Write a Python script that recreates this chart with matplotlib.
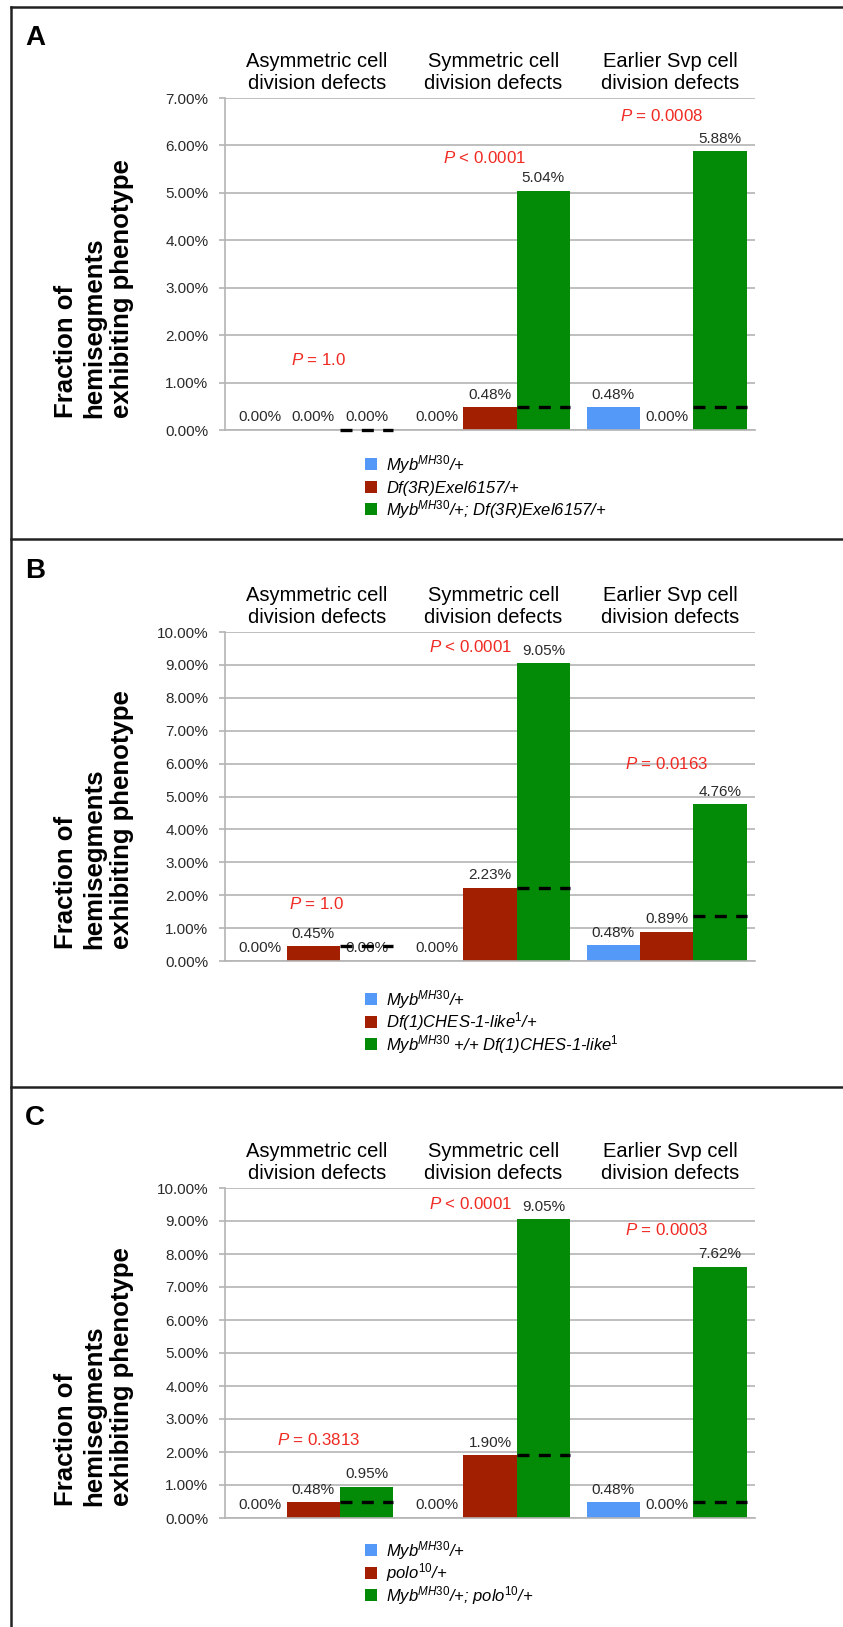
import matplotlib
matplotlib.use("Agg")
import matplotlib.pyplot as plt
from matplotlib.patches import Rectangle
from matplotlib.lines import Line2D

plt.rcParams['font.family'] = ['Liberation Sans', 'DejaVu Sans']
plt.rcParams['mathtext.fontset'] = 'custom'
plt.rcParams['mathtext.rm'] = 'Liberation Sans'
plt.rcParams['mathtext.it'] = 'Liberation Sans:italic'

# ---- data (percent of hemisegments) ----
categories = ["Asymmetric cell\ndivision defects",
              "Symmetric cell\ndivision defects",
              "Earlier Svp cell\ndivision defects"]

myb = [0.00, 0.00, 0.48]

df3r = [0.00, 0.48, 0.00]
myb_df3r = [0.00, 5.04, 5.88]
expected_A = [0.00, 0.48, 0.48]
pvals_A = ["= 1.0", "< 0.0001", "= 0.0008"]

ches = [0.45, 2.23, 0.89]
myb_ches = [0.00, 9.05, 4.76]
expected_B = [0.45, 2.23, 1.37]
pvals_B = ["= 1.0", "< 0.0001", "= 0.0163"]

polo = [0.48, 1.90, 0.00]
myb_polo = [0.95, 9.05, 7.62]
expected_C = [0.48, 1.90, 0.48]
pvals_C = ["= 0.3813", "< 0.0001", "= 0.0003"]

legend_A = [r"Myb$^{\mathit{MH30}}$/+",
            "Df(3R)Exel6157/+",
            r"Myb$^{\mathit{MH30}}$/+; Df(3R)Exel6157/+"]
legend_B = [r"Myb$^{\mathit{MH30}}$/+",
            r"Df(1)CHES-1-like$^{\mathit{1}}$/+",
            r"Myb$^{\mathit{MH30}}$ +/+ Df(1)CHES-1-like$^{\mathit{1}}$"]
legend_C = [r"Myb$^{\mathit{MH30}}$/+",
            r"polo$^{\mathit{10}}$/+",
            r"Myb$^{\mathit{MH30}}$/+; polo$^{\mathit{10}}$/+"]

colors = ["#5599f8", "#a21f02", "#038a07"]
pcolor = "#f02a22"
grid_c = "#b4b4b4"

W, H = 843, 1627
fig = plt.figure(figsize=(W / 100, H / 100), dpi=100)

def fx(px):
    return px / W

def fy(py):
    return 1 - py / H

# panel layout: (letter, letter baseline, axes top px, axes bottom px, ymax, legend row 1 px)
panels = [
    ("A", 45, 98, 430, 7, 464, [myb, df3r, myb_df3r], expected_A, pvals_A,
     [(0.03, 1.48), (0.97, 5.74), (1.97, 6.62)], legend_A),
    ("B", 578, 632, 961, 10, 999, [myb, ches, myb_ches], expected_B, pvals_B,
     [(0.02, 1.74), (0.89, 9.53), (2.0, 6.0)], legend_B),
    ("C", 1125, 1188, 1518, 10, 1550, [myb, polo, myb_polo], expected_C, pvals_C,
     [(0.03, 2.35), (0.89, 9.53), (2.0, 8.74)], legend_C),
]

bw = 0.302
ax_left, ax_right = 225, 755

for letter, lbase, top, bot, ymax, leg_y, series, expected, pvals, ppos, labels in panels:
    ax = fig.add_axes([fx(ax_left), fy(bot), fx(ax_right - ax_left), (bot - top) / H])
    ax.set_xlim(-0.5, 2.5)
    ax.set_ylim(0, ymax)
    ax.set_axisbelow(True)

    for k, (vals, col) in enumerate(zip(series, colors)):
        xs = [i + (k - 1) * bw for i in range(3)]
        ax.bar(xs, vals, width=bw, color=col, linewidth=0, zorder=2)
        for x, v in zip(xs, vals):
            ax.annotate(f"{v:.2f}%", xy=(x, v), xytext=(0, 4),
                        textcoords="offset points", ha="center", va="bottom",
                        fontsize=11, color="#2a2a2a", zorder=3)

    # expected additive value, drawn across the double-mutant bar
    for i, e in enumerate(expected):
        ax.hlines(e, i + bw / 2, i + 1.5 * bw, colors="black", linewidth=2.4,
                  linestyles=(0, (3.6, 2.8)), zorder=4, clip_on=False)

    for (px, py), p in zip(ppos, pvals):
        ax.text(px, py, r"$P$ " + p, color=pcolor, fontsize=12.2,
                ha="center", va="center", zorder=3)

    for i, cat in enumerate(categories):
        ax.annotate(cat, xy=(i + 0.02, 1), xycoords=("data", "axes fraction"),
                    xytext=(0, 3.5), textcoords="offset points",
                    ha="center", va="bottom", fontsize=14.5, linespacing=1.2)

    ax.set_yticks(range(ymax + 1))
    ax.set_yticklabels([f"{t:.2f}%" for t in range(ymax + 1)], fontsize=11,
                       color="#2a2a2a")
    ax.tick_params(axis="y", length=4, width=1.2, color=grid_c, pad=8)
    ax.set_xticks([])
    ax.grid(axis="y", color=grid_c, linewidth=1.2)
    for s in ["top", "right"]:
        ax.spines[s].set_visible(False)
    for s in ["left", "bottom"]:
        ax.spines[s].set_color(grid_c)
        ax.spines[s].set_linewidth(1.2)

    fig.text(fx(94), fy(bot - 12),
             "Fraction of\nhemisegments\nexhibiting phenotype",
             rotation=90, ha="center", va="bottom", multialignment="left",
             fontsize=18.5, fontweight="bold", linespacing=1.22)

    fig.text(fx(25), fy(lbase), letter, fontsize=20, fontweight="bold",
             va="baseline", ha="left")

    # legend
    for j, (lab, col) in enumerate(zip(labels, colors)):
        base = leg_y + j * 22.5 + 6
        fig.add_artist(Rectangle((fx(365), fy(base)), fx(12), 12 / H,
                                 facecolor=col, edgecolor="none"))
        fig.text(fx(386.5), fy(base), lab, fontsize=12, fontstyle="italic",
                 va="baseline", ha="left")

# panel borders
bc = "#222222"
fig.add_artist(Line2D([fx(11), fx(11)], [fy(7), 0], color=bc, linewidth=1.8))
for yb in [7, 539, 1087]:
    fig.add_artist(Line2D([fx(11), 1], [fy(yb), fy(yb)], color=bc, linewidth=1.8))

fig.savefig("out.png", dpi=100)
